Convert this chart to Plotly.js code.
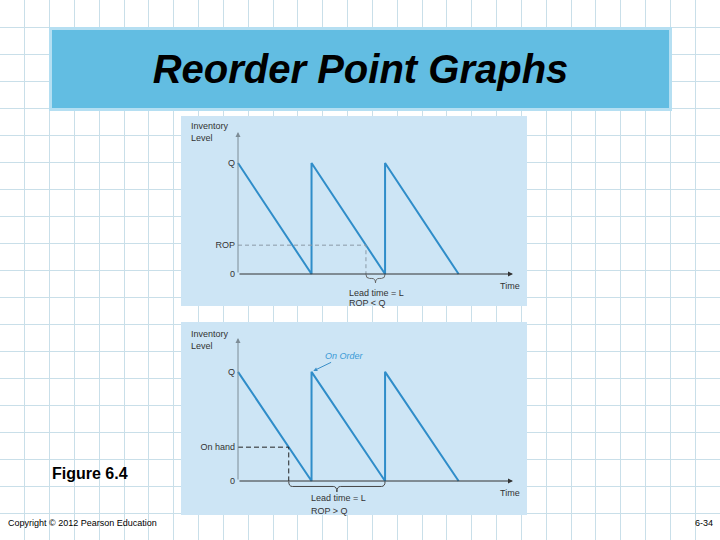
<!DOCTYPE html>
<html>
<head>
<meta charset="utf-8">
<script src="https://cdn.plot.ly/plotly-3.0.1.min.js"></script>
<style>html,body{margin:0;padding:0;background:#fff;}#chart{width:720px;height:540px;}</style>
</head>
<body>
<div id="chart"></div>
<script>
// ---- data (inventory in units of Q, time in units of one cycle) ----
const cycleTimes = [0, 1, 1, 2, 2, 3];
const inventoryLevel = [1, 0, 1, 0, 1, 0];
const topTickVals = [0, 0.26, 1];
const topTickText = ['0', 'ROP', 'Q'];
const bottomTickVals = [0, 0.31, 1];
const bottomTickText = ['0', 'On hand', 'Q'];
const ropLevel = 0.26;
const ropTime = 1.74;
const onHandLevel = 0.31;
const onHandTime = 0.69;
const leadEnd = 2;
const timeMax = 3.74;
const topLevelMax = 1.28;
const bottomLevelMax = 1.31;
const titleText = 'Reorder Point Graphs';
const figureText = 'Figure 6.4';
const copyrightText = 'Copyright © 2012 Pearson Education';
const slideNo = '6-34';

const FONT = 'Liberation Sans, Arial, Helvetica, sans-serif';
const lineBlue = '#2f8dc9';
const W = 720, H = 540;
const px = v => v / W;
const py = v => 1 - v / H;

// panel (subplot) pixel frames and axis origin pixels
const X0PX = 238, XENDPX = 513;
const unitX = (XENDPX - X0PX) / timeMax;
const xRange = [(181 - X0PX) / unitX, (527 - X0PX) / unitX];
const unitYTop = (274 - 132) / topLevelMax;
const yRangeTop = [(274 - 306) / unitYTop, (274 - 116) / unitYTop];
const unitYBot = (481 - 338) / bottomLevelMax;
const yRangeBot = [(481 - 515) / unitYBot, (481 - 322) / unitYBot];

function brace(x0, x1, d) {
  const xm = (x0 + x1) / 2, r = 0.05, ym = -d * 0.5;
  return `M ${x0},${-d*0.05} Q ${x0},${ym} ${x0+r},${ym} L ${xm-r},${ym} Q ${xm},${ym} ${xm},${-d} ` +
         `Q ${xm},${ym} ${xm+r},${ym} L ${x1-r},${ym} Q ${x1},${ym} ${x1},${-d*0.05}`;
}

const traces = [
  {x: [], y: [], xaxis: 'x', yaxis: 'y', type: 'scatter', hoverinfo: 'skip', showlegend: false},
  {x: cycleTimes, y: inventoryLevel, xaxis: 'x2', yaxis: 'y2', type: 'scatter', mode: 'lines',
   line: {color: lineBlue, width: 2}, cliponaxis: false, showlegend: false},
  {x: [0, ropTime, ropTime], y: [ropLevel, ropLevel, 0], xaxis: 'x2', yaxis: 'y2', type: 'scatter', mode: 'lines',
   line: {color: '#8a9aa6', width: 1, dash: '4px,3px'}, cliponaxis: false, showlegend: false},
  {x: cycleTimes, y: inventoryLevel, xaxis: 'x3', yaxis: 'y3', type: 'scatter', mode: 'lines',
   line: {color: lineBlue, width: 2}, cliponaxis: false, showlegend: false},
  {x: [0, onHandTime, onHandTime], y: [onHandLevel, onHandLevel, 0], xaxis: 'x3', yaxis: 'y3', type: 'scatter', mode: 'lines',
   line: {color: '#222', width: 1, dash: '5px,3px'}, cliponaxis: false, showlegend: false}
];

const xDom = [px(181), px(527)];
const hidden = {showgrid: false, zeroline: false, showline: false, showticklabels: false, ticks: '', fixedrange: true};
const yChart = {showgrid: false, zeroline: false, showline: false, ticks: '', fixedrange: true,
  anchor: 'free', position: px(X0PX),
  tickfont: {family: FONT, size: 9, color: '#333'}, ticklabelstandoff: 3};

const panel = (xr, yr, xrg, yrg) => ({type: 'rect', xref: xr, yref: yr, layer: 'below',
  x0: xrg[0], x1: xrg[1], y0: yrg[0], y1: yrg[1], fillcolor: '#cde5f5', line: {width: 0}});

const arrow = (xr, yr, x, y, ax, ay, color) => ({xref: xr, yref: yr, axref: xr, ayref: yr, x: x, y: y, ax: ax, ay: ay,
  text: '', showarrow: true, arrowhead: 2, arrowsize: 1, arrowwidth: 1, arrowcolor: color});

const txt = (text, x, y, size, opts) => Object.assign({xref: 'paper', yref: 'paper', x: px(x), y: py(y), text: text,
  showarrow: false, xanchor: 'left', yanchor: 'middle', font: {family: FONT, size: size, color: '#333'}}, opts || {});

const layout = {
  width: W, height: H, autosize: false,
  margin: {l: 0, r: 0, t: 0, b: 0},
  paper_bgcolor: '#ffffff', plot_bgcolor: 'rgba(0,0,0,0)',
  showlegend: false,
  xaxis: {domain: [0, 1], range: [0, W], tick0: 0, dtick: W / 29, showgrid: true, gridcolor: '#c9dfe9', gridwidth: 1,
          zeroline: false, showline: false, showticklabels: false, ticks: '', fixedrange: true},
  yaxis: {domain: [0, 1], range: [H, 0], tick0: 0, dtick: 27, showgrid: true, gridcolor: '#c9dfe9', gridwidth: 1,
          zeroline: false, showline: false, showticklabels: false, ticks: '', fixedrange: true},
  xaxis2: Object.assign({domain: xDom, range: xRange, anchor: 'y2'}, hidden),
  yaxis2: Object.assign({domain: [py(306), py(116)], range: yRangeTop,
          tickvals: topTickVals, ticktext: topTickText}, yChart),
  xaxis3: Object.assign({domain: xDom, range: xRange, anchor: 'y3'}, hidden),
  yaxis3: Object.assign({domain: [py(515), py(322)], range: yRangeBot,
          tickvals: bottomTickVals, ticktext: bottomTickText}, yChart),
  shapes: [
    panel('x2', 'y2', xRange, yRangeTop),
    panel('x3', 'y3', xRange, yRangeBot),
    {type: 'path', xref: 'x2', yref: 'y2', path: brace(ropTime, leadEnd, 0.08), line: {color: '#666', width: 1}},
    {type: 'path', xref: 'x3', yref: 'y3', path: brace(onHandTime, leadEnd, 0.1), line: {color: '#444', width: 1}}
  ],
  annotations: [
    // title box
    {xref: 'paper', yref: 'paper', x: px(360.5), y: py(69), xanchor: 'center', yanchor: 'middle',
     text: '<b><i>' + titleText + '</i></b>', showarrow: false,
     font: {family: FONT, size: 40, color: '#000'},
     bgcolor: '#62bde2', bordercolor: '#b5dff2', borderwidth: 3, borderpad: 0, width: 617, height: 78},
    // axes with arrows
    arrow('x2', 'y2', 0, topLevelMax, 0, 0, '#7d8c96'),
    arrow('x2', 'y2', timeMax, 0, 0, 0, '#333'),
    arrow('x3', 'y3', 0, bottomLevelMax, 0, 0, '#7d8c96'),
    arrow('x3', 'y3', timeMax, 0, 0, 0, '#333'),
    // axis labels
    txt('Inventory<br>Level', 189, 132, 9, {align: 'left'}),
    txt('Time', 510, 286, 9, {xanchor: 'center'}),
    txt('Inventory<br>Level', 189, 340, 9, {align: 'left'}),
    txt('Time', 510, 493, 9, {xanchor: 'center'}),
    txt('Lead time = L', 347, 293, 9),
    txt('ROP &lt; Q', 347, 303, 9),
    txt('Lead time = L', 309, 498, 9),
    txt('ROP &gt; Q', 309, 511, 9),
    // On Order callout
    {xref: 'x3', yref: 'y3', x: 1, y: 1, ax: 33, ay: -16, text: '<i>On Order</i>', showarrow: true,
     arrowhead: 2, arrowsize: 0.8, arrowwidth: 1, arrowcolor: '#3a8fc8', standoff: 2,
     font: {family: FONT, size: 9, color: '#3a9ad6'}},
    // slide texts
    txt('<b>' + figureText + '</b>', 50, 473, 16, {font: {family: FONT, size: 16, color: '#000'}}),
    txt(copyrightText, 6, 523, 9, {font: {family: FONT, size: 9, color: '#000'}}),
    txt(slideNo, 693, 523, 9, {font: {family: FONT, size: 9, color: '#000'}})
  ]
};

Plotly.newPlot('chart', traces, layout, {staticPlot: true, displayModeBar: false});
</script>
</body>
</html>
